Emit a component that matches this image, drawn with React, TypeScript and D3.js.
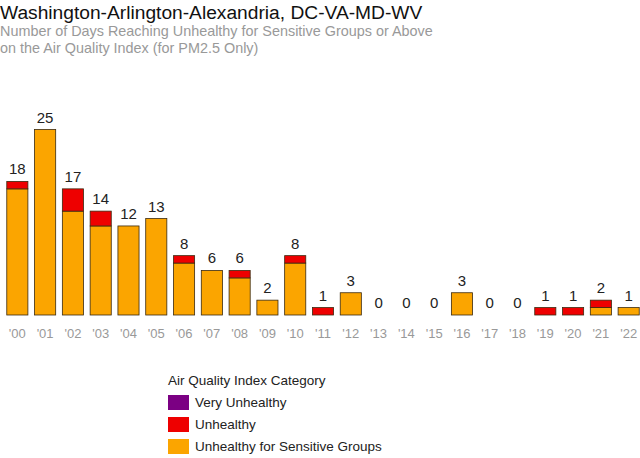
import React, { useEffect, useRef } from "react";
import * as d3 from "d3";

const years = ["'00","'01","'02","'03","'04","'05","'06","'07","'08","'09","'10","'11","'12","'13","'14","'15","'16","'17","'18","'19","'20","'21","'22"];
const usgDays = [17, 25, 14, 12, 12, 13, 7, 6, 5, 2, 7, 0, 3, 0, 0, 0, 3, 0, 0, 0, 0, 1, 1];
const unhealthyDays = [1, 0, 3, 2, 0, 0, 1, 0, 1, 0, 1, 1, 0, 0, 0, 0, 0, 0, 0, 1, 1, 1, 0];
const veryUnhealthyDays = years.map(() => 0);

const legendItems = [
  { label: "Very Unhealthy", color: "#7b0083" },
  { label: "Unhealthy", color: "#ee0000" },
  { label: "Unhealthy for Sensitive Groups", color: "#fba500" },
];

const App: React.FC = () => {
  const svgRef = useRef<SVGSVGElement>(null);

  useEffect(() => {
    if (!svgRef.current) return;
    const svg = d3.select(svgRef.current);
    svg.selectAll("*").remove();

    const font = "'Liberation Sans', Arial, sans-serif";
    const baseline = 315;

    const x = d3.scaleBand().domain(years).range([4, 642]).paddingInner(0.24).paddingOuter(0.1);
    const y = d3.scaleLinear().domain([0, 25]).range([baseline, 129.5]);

    const rows = years.map((yr, i) => ({
      year: yr,
      usg: usgDays[i],
      unh: unhealthyDays[i],
      vu: veryUnhealthyDays[i],
    }));

    const stack = d3.stack<any>().keys(["usg", "unh", "vu"])(rows);
    const colors = ["#fba500", "#ee0000", "#7b0083"];

    stack.forEach((layer, li) => {
      svg.append("g")
        .selectAll("rect")
        .data(layer.filter(d => d[1] > d[0]))
        .enter()
        .append("rect")
        .attr("x", d => x(d.data.year)!)
        .attr("y", d => y(d[1]))
        .attr("width", x.bandwidth())
        .attr("height", d => y(d[0]) - y(d[1]))
        .attr("fill", colors[li])
        .attr("stroke", "#3a2a10")
        .attr("stroke-width", 0.8);
    });

    // totals above bars
    svg.append("g")
      .selectAll("text")
      .data(rows)
      .enter()
      .append("text")
      .attr("x", d => x(d.year)! + x.bandwidth() / 2)
      .attr("y", d => y(d.usg + d.unh + d.vu) - 7)
      .attr("text-anchor", "middle")
      .style("font-family", font)
      .style("font-size", "15px")
      .attr("fill", "#222")
      .text(d => d.usg + d.unh + d.vu);

    // year labels
    svg.append("g")
      .selectAll("text")
      .data(years)
      .enter()
      .append("text")
      .attr("x", d => x(d)! + x.bandwidth() / 2)
      .attr("y", 338)
      .attr("text-anchor", "middle")
      .style("font-family", font)
      .style("font-size", "13px")
      .attr("fill", "#999")
      .text(d => d);

    // titles
    svg.append("text")
      .attr("x", 0).attr("y", 19)
      .style("font-family", font).style("font-size", "19.2px")
      .attr("fill", "#111")
      .text("Washington-Arlington-Alexandria, DC-VA-MD-WV");
    svg.append("text")
      .attr("x", 0).attr("y", 35.5)
      .style("font-family", font).style("font-size", "14.4px")
      .attr("fill", "#999")
      .text("Number of Days Reaching Unhealthy for Sensitive Groups or Above");
    svg.append("text")
      .attr("x", 0).attr("y", 52.5)
      .style("font-family", font).style("font-size", "14.4px")
      .attr("fill", "#999")
      .text("on the Air Quality Index (for PM2.5 Only)");

    // legend
    const lg = svg.append("g").attr("transform", "translate(168,0)");
    lg.append("text")
      .attr("x", 0).attr("y", 385)
      .style("font-family", font).style("font-size", "13.5px")
      .attr("fill", "#222")
      .text("Air Quality Index Category");
    legendItems.forEach((item, i) => {
      const yy = 395 + i * 22;
      lg.append("rect")
        .attr("x", 0).attr("y", yy)
        .attr("width", 21).attr("height", 15)
        .attr("fill", item.color);
      lg.append("text")
        .attr("x", 27).attr("y", yy + 12)
        .style("font-family", font).style("font-size", "13.5px")
        .attr("fill", "#222")
        .text(item.label);
    });
  }, []);

  return (
    <svg
      ref={svgRef}
      width={640}
      height={458}
      style={{ position: "absolute", left: 0, top: 0, background: "#fff" }}
    />
  );
};

export default App;
